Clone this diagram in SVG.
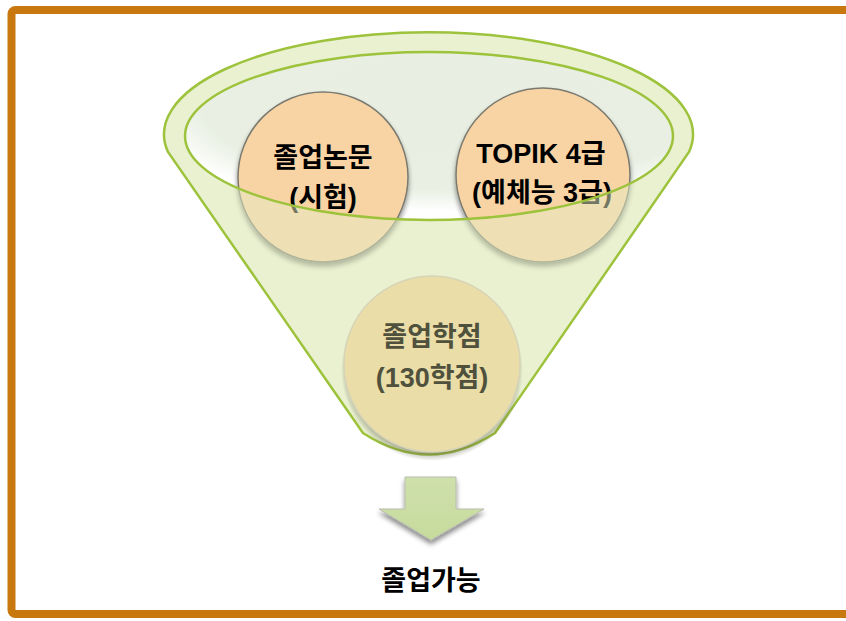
<svg xmlns="http://www.w3.org/2000/svg" width="846" height="621" viewBox="0 0 846 621">
<style>
.lbl{font-family:"Liberation Sans","Noto Sans CJK KR",sans-serif;font-weight:bold;text-anchor:middle}
.fs{stroke:#9DC23B;stroke-width:2.5;fill:none}
</style>
<defs>
<radialGradient id="hole" cx="0.55" cy="0.3" r="0.65">
<stop offset="0" stop-color="#E8EFE2"/>
<stop offset="0.8" stop-color="#E9F0E3"/>
<stop offset="1" stop-color="#FFFFFF"/>
</radialGradient>
<radialGradient id="shadow" cx="0.5" cy="0.5" r="0.5">
<stop offset="0.88" stop-color="#5E5E4A" stop-opacity="0.6"/>
<stop offset="1" stop-color="#5E5E4A" stop-opacity="0"/>
</radialGradient>
<linearGradient id="arr" x1="0" y1="0" x2="0" y2="1">
<stop offset="0" stop-color="#CFE0AC"/>
<stop offset="1" stop-color="#C6DB9C"/>
</linearGradient>
<filter id="ds" x="-20%" y="-20%" width="140%" height="150%">
<feGaussianBlur in="SourceAlpha" stdDeviation="2.5"/>
<feOffset dx="0" dy="4"/>
<feComponentTransfer><feFuncA type="linear" slope="0.45"/></feComponentTransfer>
<feMerge><feMergeNode/><feMergeNode in="SourceGraphic"/></feMerge>
</filter>
</defs>
<rect width="846" height="621" fill="#FFFFFF"/>
<rect x="11.5" y="10" width="870" height="604" rx="4" fill="none" stroke="#C8780E" stroke-width="8"/>

<g id="funnel">
<path d="M168,152 A264.5,102 0 1 1 689,152 L495,433 Q429,476 363,433 Z" fill="#EEF4DE"/>
<ellipse cx="429" cy="136" rx="244" ry="84" fill="url(#hole)"/>
</g>

<g id="node-thesis">
<circle cx="323" cy="177" r="85" fill="#F8D3A4" stroke="#7A7A70" stroke-width="1.5" filter="url(#ds)"/>
<text class="lbl" x="323" y="167" font-size="27" fill="#000">졸업논문</text>
<text class="lbl" x="323" y="207" font-size="27" fill="#000">(시험)</text>
</g>

<g id="node-topik">
<circle cx="543" cy="175" r="87" fill="#F8D3A4" stroke="#7A7A70" stroke-width="1.5" filter="url(#ds)"/>
<text class="lbl" x="541" y="163" font-size="27" fill="#000">TOPIK 4급</text>
<text class="lbl" x="542" y="202" font-size="27" fill="#000">(예체능 3급)</text>
</g>

<g id="funnel-front">
<path d="M168,152 A264.5,102 0 1 1 689,152 L495,433 Q429,476 363,433 Z M185,136 A244,84 0 1 0 673,136 A244,84 0 1 0 185,136 Z" fill="#E4EDC4" fill-opacity="0.5" fill-rule="evenodd"/>
<path class="fs" d="M168,152 A264.5,102 0 1 1 689,152 L495,433 Q429,476 363,433 Z"/>
<ellipse class="fs" cx="429" cy="136" rx="244" ry="84"/>
</g>

<g id="node-credits">
<circle cx="432" cy="370" r="91" fill="url(#shadow)"/>
<circle cx="432" cy="364" r="88" fill="#EADDA8" stroke="#D8D4B8" stroke-width="1.5"/>
<text class="lbl" x="432" y="346" font-size="27" fill="#50513C">졸업학점</text>
<text class="lbl" x="432" y="387" font-size="27" fill="#50513C">(130학점)</text>
</g>

<g id="connectors">
<path d="M405,477 H456 V509 H484 L431,540 L379,509 H405 Z" fill="url(#arr)" stroke="#B9BDAE" stroke-width="1" filter="url(#ds)"/>
</g>

<g id="node-result">
<text class="lbl" x="431" y="590" font-size="27" fill="#000">졸업가능</text>
</g>
</svg>
